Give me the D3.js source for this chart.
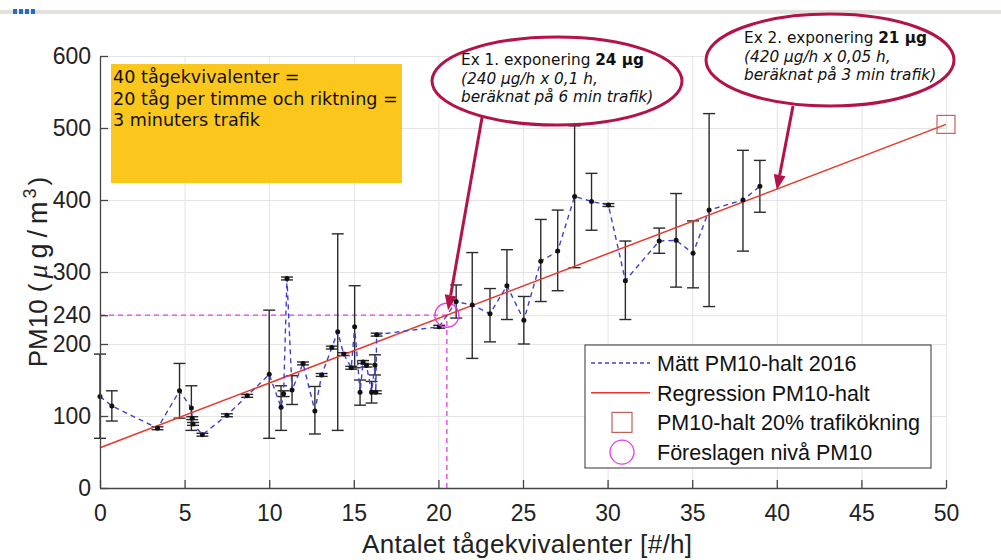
<!DOCTYPE html>
<meta charset="utf-8">
<title>PM10 och tågekvivalenter</title>
<style>
  body { margin: 0; background: #fff; }
  svg { display: block; font-family: "Liberation Sans", Arial, sans-serif; }
</style>
<body>
<script src="https://d3js.org/d3.v7.min.js"></script>
<script type="text/javascript">

// measured PM10 (ug/m3) per number of train equivalents, with error bars
var obsX  = [0, 0.7, 3.4, 4.7, 5.4, 5.45, 5.5, 6.05, 7.5, 8.7, 10.0, 10.7, 10.85, 11.05, 11.35, 12.0, 12.7, 13.1, 13.7, 14.05, 14.4, 14.85, 15.05, 15.37, 15.55, 15.75, 16.05, 16.25, 16.3, 16.35, 20.05, 21.05, 22.0, 23.05, 24.05, 25.05, 26.05, 27.05, 28.05, 29.05, 30.05, 31.05, 33.05, 34.05, 35.05, 36.0, 38.0, 39.0];
var obsY  = [127, 114, 83, 135, 111, 97, 89, 74, 101, 128, 158, 112, 131, 291, 136, 173, 107, 157, 195, 217, 186, 167, 224, 133, 175, 170, 133, 171, 133, 213, 224, 259, 254, 242, 281, 233, 315, 329, 405, 398, 393, 288, 343, 344, 326, 386, 400, 419];
var obsLo = [69, 93, 81, 97, 80, 95, 87, 72, 99, 126, 69, 80, 127, 289, 116, 171, 75, 155, 193, 80, 184, 165, 167, 115, 173, 168, 118, 157, 131, 211, 222, 236, 180, 203, 234, 200, 259, 274, 306, 358, 391, 234, 326, 279, 278, 252, 329, 383];
var obsHi = [186, 135, 85, 173, 142, 99, 91, 76, 103, 130, 247, 142, 135, 293, 156, 175, 141, 159, 197, 353, 188, 169, 281, 150, 177, 172, 148, 185, 135, 215, 226, 282, 327, 277, 331, 266, 373, 386, 503, 437, 395, 343, 361, 409, 371, 520, 469, 455];

// regression line end points
var regX = [0, 50];
var regY = [56, 505];

// 20 % traffic increase and proposed level
var futureX = [50];
var futureY = [505];
var proposedX = [20.5];
var proposedY = [240];

var xTicks = [0, 5, 10, 15, 20, 25, 30, 35, 40, 45, 50];
var yTicks = [0, 100, 200, 240, 300, 400, 500, 600];

var legendLabels = ["Mätt PM10-halt 2016", "Regression PM10-halt", "PM10-halt 20% trafikökning", "Föreslagen nivå PM10"];

var infoLines = ["40 tågekvivalenter =", "20 tåg per timme och riktning =", "3 minuters trafik"];

var width = 1001, height = 560;
var plotLeft = 100, plotRight = 946, plotTop = 56, plotBottom = 488;

var svg = d3.select("body").append("svg")
  .attr("width", width)
  .attr("height", height);

var x = d3.scaleLinear().domain([0, 50]).range([plotLeft, plotRight]);
var y = d3.scaleLinear().domain([0, 600]).range([plotBottom, plotTop]);

// page chrome at the top
svg.append("rect").attr("x", 0).attr("y", 10).attr("width", width).attr("height", 4).style("fill", "#e4e1dc");
for (var i = 0; i < 4; i++) {
  svg.append("rect").attr("x", 13 + i * 6).attr("y", 9).attr("width", 4).attr("height", 5).style("fill", "#1f6fc4");
}

// grid
svg.append("g")
  .attr("transform", "translate(0," + plotBottom + ")")
  .call(d3.axisBottom(x).tickValues(xTicks).tickSize(-(plotBottom - plotTop)).tickFormat(""))
  .call(function(g) {
    g.select(".domain").remove();
    g.selectAll("line").style("stroke", "#e4e4e4");
  });
svg.append("g")
  .attr("transform", "translate(" + plotLeft + ",0)")
  .call(d3.axisLeft(y).tickValues(yTicks).tickSize(-(plotRight - plotLeft)).tickFormat(""))
  .call(function(g) {
    g.select(".domain").remove();
    g.selectAll("line").style("stroke", "#e4e4e4");
  });

// yellow info box
svg.append("rect")
  .attr("x", 111).attr("y", 64).attr("width", 291).attr("height", 119)
  .style("fill", "#fcc71c");
svg.append("g").selectAll("text")
  .data(infoLines)
  .enter().append("text")
  .attr("x", 113)
  .attr("y", function(d, i) { return 83 + i * 21.5; })
  .style("font-family", "'DejaVu Sans', Verdana, sans-serif")
  .style("font-size", "17.6px")
  .style("fill", "#111")
  .text(function(d) { return d; });

// proposed level guide lines
svg.append("line")
  .attr("x1", x(0)).attr("x2", x(proposedX[0]))
  .attr("y1", y(proposedY[0])).attr("y2", y(proposedY[0]))
  .style("stroke", "#e040e0").style("stroke-width", 1.3).style("stroke-dasharray", "5,4");
svg.append("line")
  .attr("x1", x(proposedX[0])).attr("x2", x(proposedX[0]))
  .attr("y1", y(0)).attr("y2", y(proposedY[0]))
  .style("stroke", "#e040e0").style("stroke-width", 1.3).style("stroke-dasharray", "5,4");

// error bars
var bars = svg.append("g").style("stroke", "#2b2b2b").style("stroke-width", 1.4);
obsX.forEach(function(d, i) {
  bars.append("line").attr("x1", x(d)).attr("x2", x(d)).attr("y1", y(obsLo[i])).attr("y2", y(obsHi[i]));
  bars.append("line").attr("x1", x(d) - 6).attr("x2", x(d) + 6).attr("y1", y(obsLo[i])).attr("y2", y(obsLo[i]));
  bars.append("line").attr("x1", x(d) - 6).attr("x2", x(d) + 6).attr("y1", y(obsHi[i])).attr("y2", y(obsHi[i]));
});

// regression
svg.append("path")
  .datum(regX.map(function(d, i) { return [d, regY[i]]; }))
  .attr("d", d3.line().x(function(d) { return x(d[0]); }).y(function(d) { return y(d[1]); }))
  .style("fill", "none").style("stroke", "#e8352b").style("stroke-width", 1.5);

// measured series
svg.append("path")
  .datum(obsX.map(function(d, i) { return [d, obsY[i]]; }))
  .attr("d", d3.line().x(function(d) { return x(d[0]); }).y(function(d) { return y(d[1]); }))
  .style("fill", "none").style("stroke", "#4040d0").style("stroke-width", 1.4).style("stroke-dasharray", "5,4");
svg.append("g").selectAll("circle")
  .data(obsX)
  .enter().append("circle")
  .attr("cx", function(d) { return x(d); })
  .attr("cy", function(d, i) { return y(obsY[i]); })
  .attr("r", 2.5)
  .style("fill", "#111");

// future point and proposed level marker
svg.append("g").selectAll("rect")
  .data(futureX)
  .enter().append("rect")
  .attr("x", function(d) { return x(d) - 9; })
  .attr("y", function(d, i) { return y(futureY[i]) - 9; })
  .attr("width", 18).attr("height", 18)
  .style("fill", "none").style("stroke", "#d2604e").style("stroke-width", 1.2);
svg.append("g").selectAll("circle")
  .data(proposedX)
  .enter().append("circle")
  .attr("cx", function(d) { return x(d); })
  .attr("cy", function(d, i) { return y(proposedY[i]); })
  .attr("r", 12)
  .style("fill", "none").style("stroke", "#e040e8").style("stroke-width", 1.4);

// axes
var yAxis = svg.append("g")
  .attr("transform", "translate(" + plotLeft + ",0)")
  .call(d3.axisLeft(y).tickValues(yTicks).tickSizeInner(-8).tickSizeOuter(0).tickPadding(9));
var xAxis = svg.append("g")
  .attr("transform", "translate(0," + plotBottom + ")")
  .call(d3.axisBottom(x).tickValues(xTicks).tickSizeInner(-8).tickSizeOuter(0).tickPadding(17));
[xAxis, yAxis].forEach(function(g) {
  g.selectAll("path, line").style("stroke", "#444").style("stroke-width", 1.3);
  g.selectAll("text").style("font-family", "'Liberation Sans', Arial, sans-serif").style("font-size", "23px").style("fill", "#222");
});

// axis titles
svg.append("text")
  .attr("x", 527).attr("y", 553)
  .attr("text-anchor", "middle")
  .attr("textLength", 330)
  .style("font-size", "26px").style("fill", "#222")
  .text("Antalet tågekvivalenter [#/h]");

var yTitle = svg.append("text")
  .attr("transform", "translate(47,272) rotate(-90)")
  .attr("text-anchor", "middle")
  .style("font-size", "26px").style("fill", "#222");
yTitle.append("tspan").text("PM10 (");
yTitle.append("tspan").attr("dx", 5).style("font-family", "'Liberation Serif', serif").style("font-style", "italic").style("font-size", "28px").text("\u03bc");
yTitle.append("tspan").attr("dx", 6).style("font-size", "27px").text("g");
yTitle.append("tspan").attr("dx", 6).style("font-size", "27px").text("/");
yTitle.append("tspan").attr("dx", 6).style("font-size", "27px").text("m");
yTitle.append("tspan").attr("dx", 3).attr("dy", -11).style("font-size", "18px").text("3");
yTitle.append("tspan").attr("dx", 3).attr("dy", 11).text(")");

// legend
var lg = svg.append("g");
lg.append("rect")
  .attr("x", 585).attr("y", 345).attr("width", 346).attr("height", 123)
  .style("fill", "#fff").style("stroke", "#333").style("stroke-width", 1);
legendLabels.forEach(function(d, i) {
  var cy = 363 + i * 29.7;
  if (i === 0) {
    lg.append("line").attr("x1", 591).attr("x2", 650).attr("y1", cy).attr("y2", cy)
      .style("stroke", "#4040d0").style("stroke-width", 1.3).style("stroke-dasharray", "4,3");
  } else if (i === 1) {
    lg.append("line").attr("x1", 591).attr("x2", 650).attr("y1", cy).attr("y2", cy)
      .style("stroke", "#e8352b").style("stroke-width", 1.5);
  } else if (i === 2) {
    lg.append("rect").attr("x", 612).attr("y", cy - 10).attr("width", 20).attr("height", 20)
      .style("fill", "none").style("stroke", "#c0605a").style("stroke-width", 1.2);
  } else {
    lg.append("circle").attr("cx", 622).attr("cy", cy).attr("r", 12)
      .style("fill", "none").style("stroke", "#e040e8").style("stroke-width", 1.3);
  }
  lg.append("text").attr("x", 657).attr("y", cy + 8)
    .style("font-size", "21.5px").style("fill", "#111")
    .text(d);
});

// callouts
var calloutColor = "#b3124a";
function callout(cx, cy, rx, ry, lines, fromX, fromY, tipX, tipY, tx, ty) {
  var g = svg.append("g");
  var px = x(tipX), py = y(tipY);
  var ang = Math.atan2(py - fromY, px - fromX);
  var hl = 15, hw = 6;
  var bx = px - hl * Math.cos(ang), by = py - hl * Math.sin(ang);
  g.append("line").attr("x1", fromX).attr("y1", fromY).attr("x2", bx).attr("y2", by)
    .style("stroke", calloutColor).style("stroke-width", 3);
  g.append("path")
    .attr("d", "M" + px + "," + py +
      "L" + (bx + hw * Math.sin(ang)) + "," + (by - hw * Math.cos(ang)) +
      "L" + (bx - hw * Math.sin(ang)) + "," + (by + hw * Math.cos(ang)) + "Z")
    .style("fill", calloutColor);
  g.append("ellipse").attr("cx", cx).attr("cy", cy).attr("rx", rx).attr("ry", ry)
    .style("fill", "#fff").style("stroke", calloutColor).style("stroke-width", 3);
  var t = g.append("g").style("font-family", "'DejaVu Sans', Verdana, sans-serif").style("font-size", "15.3px").style("fill", "#111");
  var l1 = t.append("text").attr("x", tx).attr("y", ty);
  l1.append("tspan").text(lines[0]);
  l1.append("tspan").style("font-weight", "bold").text(lines[1]);
  t.append("text").attr("x", tx).attr("y", ty + 18.5).style("font-style", "italic").text(lines[2]);
  t.append("text").attr("x", tx).attr("y", ty + 37).style("font-style", "italic").text(lines[3]);
}
callout(557, 81, 125, 44,
  ["Ex 1. exponering ", "24 \u03bcg", "(240 \u03bcg/h x 0,1 h,", "beräknat på 6 min trafik)"],
  483, 112, 20.57, 247, 461, 65);
callout(830, 60, 124, 46,
  ["Ex 2. exponering ", "21 \u03bcg", "(420 \u03bcg/h x 0,05 h,", "beräknat på 3 min trafik)"],
  793, 106, 40.0, 414, 744, 43);

</script>
</body>
